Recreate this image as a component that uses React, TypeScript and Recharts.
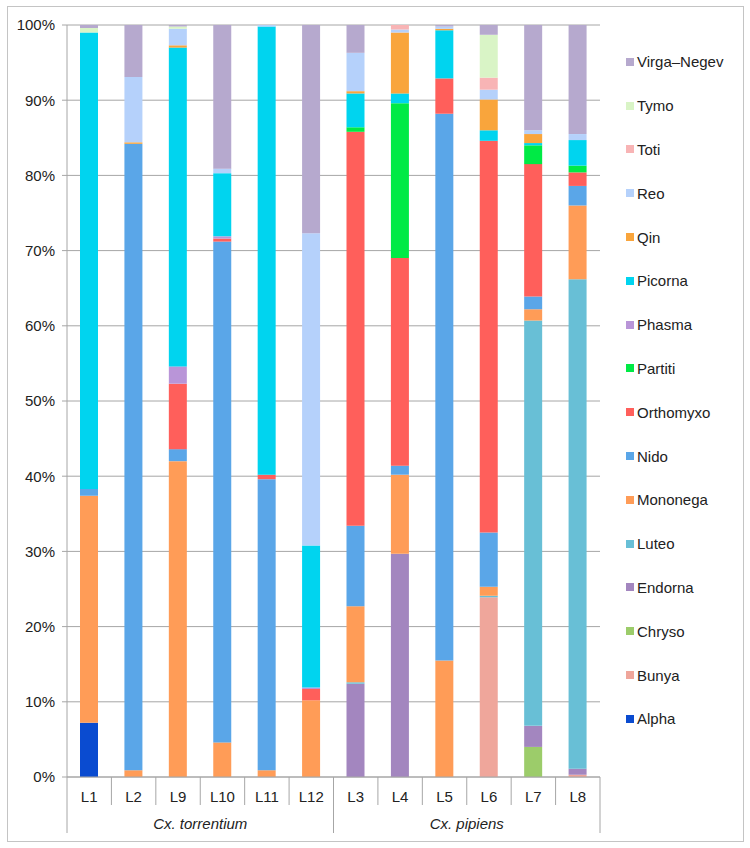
import React from "react"
import { BarChart, Bar, XAxis, YAxis, CartesianGrid } from "recharts"

const LIBRARIES = ["L1", "L2", "L9", "L10", "L11", "L12", "L3", "L4", "L5", "L6", "L7", "L8"]
const GROUPS = [
  { label: "Cx. torrentium", size: 6 },
  { label: "Cx. pipiens", size: 6 },
]
const Y_TICKS = [0, 0.1, 0.2, 0.3, 0.4, 0.5, 0.6, 0.7, 0.8, 0.9, 1]

// percent of reads per virus family, one value per library (order of LIBRARIES)
const alpha = [7.2, 0, 0, 0, 0, 0, 0, 0, 0, 0, 0, 0]
const bunya = [0, 0, 0, 0, 0, 0, 0, 0, 0, 23.9, 0, 0.3]
const chryso = [0, 0, 0, 0, 0, 0, 0, 0, 0, 0, 4.0, 0]
const endorna = [0, 0, 0, 0, 0, 0, 12.4, 29.7, 0, 0, 2.8, 0.8]
const luteo = [0, 0, 0, 0, 0, 0, 0.2, 0, 0, 0.2, 53.9, 65.1]
const mononega = [30.2, 0.9, 42.0, 4.6, 0.9, 10.2, 10.1, 10.5, 15.5, 1.2, 1.5, 9.8]
const nido = [0.9, 83.3, 1.6, 66.6, 38.7, 0, 10.7, 1.2, 72.7, 7.2, 1.7, 2.6]
const orthomyxo = [0, 0, 8.7, 0.4, 0.6, 1.5, 52.4, 27.6, 4.7, 52.1, 17.6, 1.8]
const partiti = [0, 0, 0, 0, 0, 0, 0.6, 20.6, 0, 0, 2.5, 0.9]
const phasma = [0, 0, 2.3, 0.3, 0, 0.2, 0, 0, 0, 0, 0, 0]
const picorna = [60.7, 0, 42.4, 8.4, 59.6, 18.9, 4.5, 1.3, 6.4, 1.4, 0.3, 3.4]
const qin = [0, 0.2, 0.3, 0, 0, 0, 0.3, 8.1, 0.2, 4.1, 1.2, 0]
const reo = [0, 8.7, 2.2, 0.6, 0.2, 41.5, 5.1, 0.4, 0.3, 1.3, 0.5, 0.8]
const toti = [0, 0, 0, 0, 0, 0, 0, 0.6, 0, 1.6, 0, 0]
const tymo = [0.6, 0, 0.3, 0, 0, 0, 0, 0, 0, 5.7, 0, 0]
const virgaNegev = [0.4, 6.9, 0.2, 19.1, 0, 27.7, 3.7, 0, 0.2, 1.3, 14.0, 14.5]

// bottom of the stack first
const SERIES = [
  { key: "Alpha", values: alpha, color: "#0a4bd0" },
  { key: "Bunya", values: bunya, color: "#efa69b" },
  { key: "Chryso", values: chryso, color: "#9ccc6a" },
  { key: "Endorna", values: endorna, color: "#a386bf" },
  { key: "Luteo", values: luteo, color: "#68bfd6" },
  { key: "Mononega", values: mononega, color: "#ff9c57" },
  { key: "Nido", values: nido, color: "#5aa6e8" },
  { key: "Orthomyxo", values: orthomyxo, color: "#ff5f5b" },
  { key: "Partiti", values: partiti, color: "#00ea45" },
  { key: "Phasma", values: phasma, color: "#b995d8" },
  { key: "Picorna", values: picorna, color: "#00d4ef" },
  { key: "Qin", values: qin, color: "#f9a53c" },
  { key: "Reo", values: reo, color: "#b5d1fb" },
  { key: "Toti", values: toti, color: "#f8b4b5" },
  { key: "Tymo", values: tymo, color: "#d9f4c6" },
  { key: "Virga–Negev", values: virgaNegev, color: "#b6a9ce" },
]

const rows = LIBRARIES.map((name, i) => {
  const row: Record<string, string | number> = { name }
  SERIES.forEach((s) => { row[s.key] = s.values[i] })
  return row
})

const W = 750
const H = 848
const PLOT_LEFT = 67
const PLOT_RIGHT = 600
const PLOT_TOP = 25
const PLOT_BOTTOM = 777
const BAND = (PLOT_RIGHT - PLOT_LEFT) / LIBRARIES.length
const FONT = "'Liberation Sans', Arial, sans-serif"
const AXIS = "#a6a6a6"

function groupStart(i: number) {
  let acc = 0
  for (const g of GROUPS) {
    if (i === acc) return true
    acc += g.size
  }
  return false
}

function CategoryTick(props: any) {
  const { x, payload, index } = props
  const y0 = PLOT_BOTTOM
  const left = x - BAND / 2
  const right = x + BAND / 2
  const last = index === LIBRARIES.length - 1
  let acc = 0
  let groupLabel: React.ReactNode = null
  GROUPS.forEach((g) => {
    // group sizes are even: label sits on the boundary in the middle of the group
    if (index === acc + g.size / 2 - 1) {
      groupLabel = (
        <text x={right} y={y0 + 52} textAnchor="middle" fontSize={15} fontStyle="italic" fill="#222" fontFamily={FONT}>
          {g.label}
        </text>
      )
    }
    acc += g.size
  })
  return (
    <g>
      <line x1={left} y1={y0} x2={left} y2={groupStart(index) ? y0 + 56 : y0 + 28} stroke={AXIS} />
      {last && <line x1={right} y1={y0} x2={right} y2={y0 + 56} stroke={AXIS} />}
      <text x={x} y={y0 + 25} textAnchor="middle" fontSize={15} fill="#222" fontFamily={FONT}>
        {payload.value}
      </text>
      {groupLabel}
    </g>
  )
}

export default function App() {
  return (
    <div style={{ position: "absolute", left: 0, top: 0, width: W, height: H, background: "#fff" }}>
      <div style={{ position: "absolute", left: 7, top: 6, width: 735, height: 834, border: "1px solid #c4c4c4" }} />
      <BarChart
        width={W}
        height={H}
        data={rows}
        stackOffset="expand"
        barSize={18}
        margin={{ top: PLOT_TOP, right: W - PLOT_RIGHT, bottom: H - PLOT_BOTTOM - 60, left: 7 }}
      >
        <CartesianGrid vertical={false} stroke={AXIS} strokeWidth={1} />
        <XAxis
          dataKey="name"
          interval={0}
          tickLine={false}
          tickSize={0}
          tickMargin={0}
          height={60}
          axisLine={{ stroke: AXIS }}
          tick={<CategoryTick />}
        />
        <YAxis
          width={60}
          domain={[0, 1]}
          ticks={Y_TICKS}
          tickFormatter={(v: number) => `${Math.round(v * 100)}%`}
          tickSize={5}
          tickMargin={7}
          tick={{ fontSize: 15, fill: "#222", fontFamily: FONT }}
          tickLine={{ stroke: AXIS }}
          axisLine={{ stroke: AXIS }}
        />
        {SERIES.map((s) => (
          <Bar key={s.key} dataKey={s.key} stackId="a" fill={s.color} isAnimationActive={false} />
        ))}
      </BarChart>
      <div style={{ position: "absolute", left: 626, top: 40, fontFamily: FONT, fontSize: 15, color: "#222" }}>
        {[...SERIES].reverse().map((s) => (
          <div key={s.key} style={{ display: "flex", alignItems: "center", height: 43.8 }}>
            <span style={{ width: 8, height: 8, background: s.color, marginRight: 3, display: "inline-block" }} />
            <span>{s.key}</span>
          </div>
        ))}
      </div>
    </div>
  )
}
